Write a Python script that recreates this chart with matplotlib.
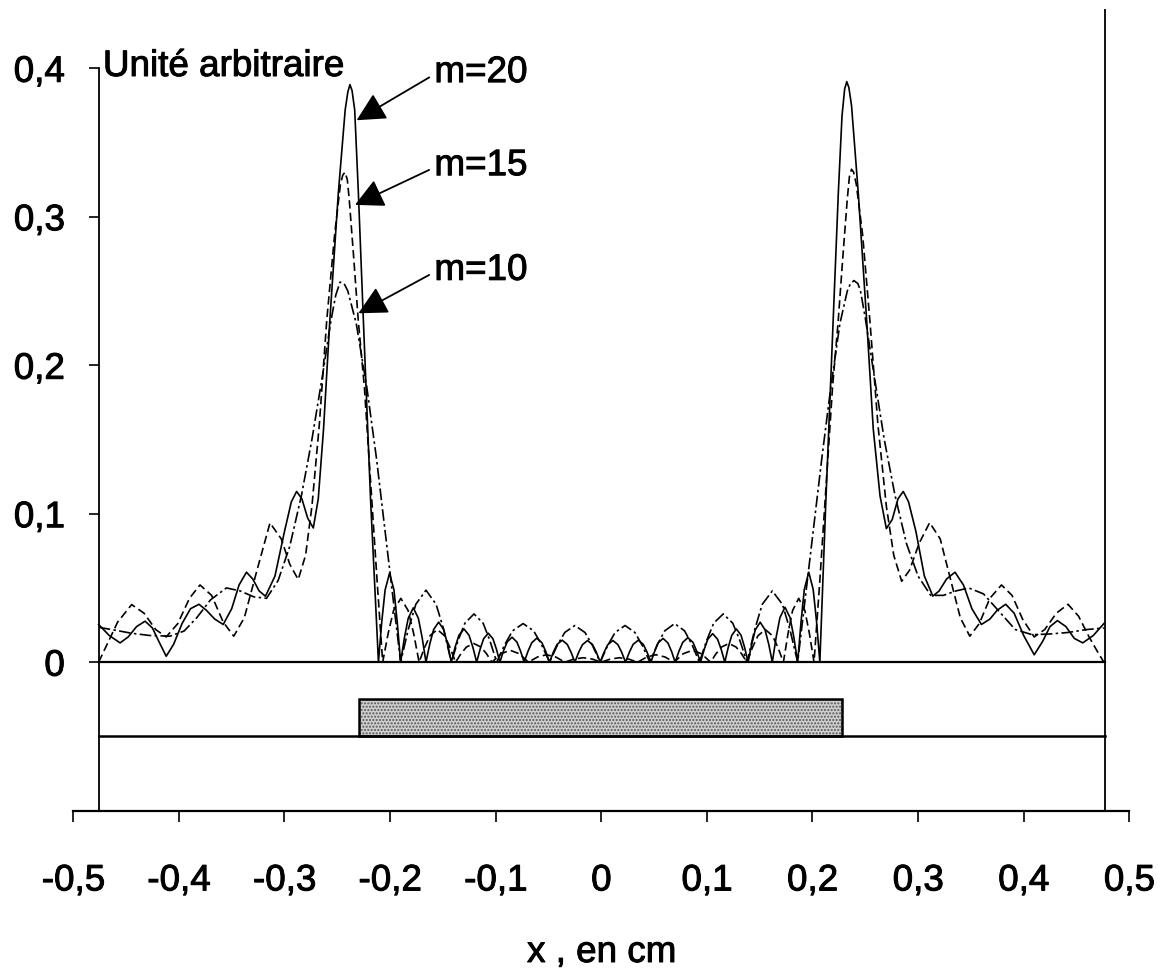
import matplotlib
matplotlib.use("Agg")
import matplotlib.pyplot as plt
import matplotlib.patheffects as pe
from matplotlib.patches import Rectangle

plt.rcParams["font.family"] = ["Liberation Sans", "DejaVu Sans"]
TEXT_SIZE = 26.5
heavy = [pe.withStroke(linewidth=0.7, foreground="black")]

# Axis ticks and their (French decimal) labels
x_ticks = [-0.5, -0.4, -0.3, -0.2, -0.1, 0.0, 0.1, 0.2, 0.3, 0.4, 0.5]
x_tick_labels = ["-0,5", "-0,4", "-0,3", "-0,2", "-0,1", "0", "0,1", "0,2", "0,3", "0,4", "0,5"]
y_ticks = [0.0, 0.1, 0.2, 0.3, 0.4]
y_tick_labels = ["0", "0,1", "0,2", "0,3", "0,4"]

# Profile for m = 10 harmonics
x_m10 = [
    -0.476, -0.460, -0.445, -0.428, -0.4085, -0.395, -0.383, -0.370, -0.355, -0.342,
    -0.329, -0.317, -0.306, -0.295, -0.284, -0.274, -0.264, -0.256, -0.2515, -0.2474,
    -0.2435, -0.240, -0.232, -0.222, -0.213, -0.205, -0.197,
    -0.190, -0.1828, -0.1756, -0.166, -0.1564, -0.1492,
    -0.142, -0.1356, -0.1291, -0.1205, -0.1119, -0.1055,
    -0.099, -0.0915, -0.084, -0.074, -0.064, -0.0565,
    -0.049, -0.0418, -0.0346, -0.025, -0.0154, -0.0082,
    -0.001, 0.006, 0.0131, 0.0225, 0.0319, 0.039,
    0.046, 0.053, 0.0601, 0.0695, 0.0789, 0.086,
    0.093, 0.0998, 0.1065, 0.1155, 0.1245, 0.1313,
    0.138, 0.1452, 0.1524, 0.162, 0.1716, 0.1788,
    0.186, 0.193, 0.201, 0.209, 0.217, 0.226, 0.233, 0.236, 0.2393, 0.243,
    0.2455, 0.250, 0.258, 0.268, 0.278, 0.289, 0.300, 0.312, 0.324, 0.336,
    0.348, 0.362, 0.377, 0.392, 0.408, 0.425, 0.442, 0.460, 0.476,
]
y_m10 = [
    0.0235, 0.0215, 0.0195, 0.018, 0.0175, 0.021, 0.030, 0.042, 0.050, 0.048,
    0.044, 0.043, 0.055, 0.078, 0.112, 0.150, 0.193, 0.230, 0.247, 0.256,
    0.255, 0.250, 0.228, 0.185, 0.138, 0.090, 0.042,
    0.0, 0.022, 0.039, 0.0485, 0.039, 0.022,
    0.0, 0.0146, 0.0263, 0.0325, 0.0263, 0.0146,
    0.0, 0.0117, 0.0211, 0.026, 0.0211, 0.0117,
    0.0, 0.0111, 0.020, 0.0247, 0.020, 0.0111,
    0.0, 0.0111, 0.020, 0.0247, 0.020, 0.0111,
    0.0, 0.0117, 0.0211, 0.026, 0.0211, 0.0117,
    0.0, 0.0146, 0.0263, 0.0325, 0.0263, 0.0146,
    0.0, 0.0216, 0.0389, 0.048, 0.0389, 0.0216,
    0.0, 0.042, 0.090, 0.138, 0.183, 0.228, 0.250, 0.255, 0.257, 0.255,
    0.250, 0.232, 0.195, 0.150, 0.113, 0.080, 0.058, 0.045, 0.045, 0.048,
    0.050, 0.046, 0.034, 0.022, 0.0185, 0.019, 0.020, 0.022, 0.023,
]

# Profile for m = 15 harmonics
x_m15 = [
    -0.476, -0.468, -0.458, -0.4447, -0.433, -0.422, -0.412, -0.401, -0.390, -0.380,
    -0.369, -0.358, -0.348, -0.338, -0.326, -0.3137, -0.303, -0.295, -0.287, -0.280,
    -0.274, -0.267, -0.260, -0.2525, -0.247, -0.2448, -0.2427, -0.2405, -0.2387, -0.2347,
    -0.2301, -0.2243, -0.2183, -0.2123,
    -0.207, -0.2018, -0.1967, -0.1898, -0.1829, -0.1777,
    -0.1725, -0.1673, -0.1622, -0.1553, -0.1484, -0.1432,
    -0.138, -0.1328, -0.1277, -0.1208, -0.1139, -0.1087,
    -0.1035, -0.0949, -0.0863, -0.0776,
    -0.069, -0.0604, -0.0518, -0.0431,
    -0.0345, -0.0259, -0.0173, -0.0086,
    0.0, 0.0086, 0.0173, 0.0259,
    0.0345, 0.0431, 0.0518, 0.0604,
    0.069, 0.0776, 0.0863, 0.0949,
    0.1035, 0.1087, 0.1139, 0.1208, 0.1277, 0.1328,
    0.138, 0.1432, 0.1484, 0.1553, 0.1622, 0.1673,
    0.1725, 0.1769, 0.1812, 0.187, 0.1928, 0.1971,
    0.2015, 0.207, 0.213, 0.219, 0.2244, 0.229, 0.233, 0.235, 0.237, 0.239,
    0.2415, 0.2475, 0.2544, 0.262, 0.270, 0.277, 0.2845, 0.292, 0.301, 0.311,
    0.321, 0.330, 0.340, 0.349, 0.358, 0.368, 0.379, 0.389, 0.399, 0.410,
    0.420, 0.431, 0.442, 0.452, 0.462, 0.470, 0.476,
]
y_m15 = [
    0.0, 0.012, 0.027, 0.0388, 0.033, 0.022, 0.017, 0.026, 0.043, 0.052,
    0.045, 0.027, 0.0175, 0.030, 0.062, 0.0938, 0.083, 0.066, 0.0557, 0.072,
    0.105, 0.160, 0.230, 0.288, 0.322, 0.328, 0.330, 0.325, 0.312, 0.275,
    0.230, 0.185, 0.120, 0.055,
    0.0, 0.0194, 0.0348, 0.043, 0.0348, 0.0194,
    0.0, 0.0099, 0.0178, 0.022, 0.0178, 0.0099,
    0.0, 0.0057, 0.0102, 0.0126, 0.0102, 0.0057,
    0.0, 0.0057, 0.008, 0.0057,
    0.0, 0.0035, 0.005, 0.0035,
    0.0, 0.0021, 0.003, 0.0021,
    0.0, 0.0021, 0.003, 0.0021,
    0.0, 0.0035, 0.005, 0.0035,
    0.0, 0.0057, 0.008, 0.0057,
    0.0, 0.0057, 0.0102, 0.0126, 0.0102, 0.0057,
    0.0, 0.0099, 0.0178, 0.022, 0.0178, 0.0099,
    0.0, 0.0194, 0.0348, 0.043, 0.0348, 0.0194,
    0.0, 0.055, 0.120, 0.185, 0.230, 0.275, 0.312, 0.327, 0.332, 0.330,
    0.322, 0.288, 0.230, 0.160, 0.105, 0.072, 0.0545, 0.062, 0.080, 0.094,
    0.083, 0.058, 0.030, 0.0175, 0.026, 0.043, 0.052, 0.045, 0.029, 0.017,
    0.022, 0.033, 0.039, 0.031, 0.017, 0.007, 0.0,
]

# Profile for m = 20 harmonics
x_m20 = [
    -0.476, -0.466, -0.4557, -0.448, -0.440, -0.432, -0.425, -0.419, -0.412, -0.405,
    -0.397, -0.389, -0.381, -0.374, -0.366, -0.358, -0.350, -0.343, -0.336, -0.330,
    -0.324, -0.318, -0.309, -0.300, -0.2935, -0.2885, -0.2835, -0.278, -0.2727, -0.268,
    -0.263, -0.257, -0.249, -0.2425, -0.240, -0.238, -0.236, -0.2335, -0.230, -0.2253,
    -0.2185,
    -0.211, -0.2079, -0.2047, -0.2005, -0.1963, -0.1932,
    -0.190, -0.1864, -0.1828, -0.178, -0.1732, -0.1696,
    -0.166, -0.1624, -0.1588, -0.154, -0.1492, -0.1456,
    -0.142, -0.1384, -0.1348, -0.130, -0.1252, -0.1216,
    -0.118, -0.1147, -0.1114, -0.107, -0.1026, -0.0993,
    -0.096, -0.0926, -0.0891, -0.0845, -0.0799, -0.0765,
    -0.073, -0.0694, -0.0658, -0.061, -0.0562, -0.0526,
    -0.049, -0.0454, -0.0418, -0.037, -0.0322, -0.0286,
    -0.025, -0.0214, -0.0178, -0.013, -0.0082, -0.0046,
    -0.001, 0.0026, 0.0062, 0.011, 0.0158, 0.0194,
    0.023, 0.0266, 0.0302, 0.035, 0.0398, 0.0434,
    0.047, 0.0505, 0.0539, 0.0585, 0.0631, 0.0666,
    0.070, 0.0736, 0.0772, 0.082, 0.0868, 0.0904,
    0.094, 0.0975, 0.1009, 0.1055, 0.1101, 0.1136,
    0.117, 0.1203, 0.1236, 0.128, 0.1324, 0.1357,
    0.139, 0.1425, 0.1459, 0.1505, 0.1551, 0.1586,
    0.162, 0.1656, 0.1692, 0.174, 0.1788, 0.1824,
    0.186, 0.1892, 0.1923, 0.1965, 0.2007, 0.2039,
    0.207, 0.2125, 0.2197, 0.2245, 0.228, 0.2305, 0.2325, 0.2345, 0.237, 0.2434,
    0.2513, 0.2576, 0.264, 0.270, 0.2755, 0.281, 0.286, 0.291, 0.298, 0.306,
    0.314, 0.320, 0.327, 0.335, 0.343, 0.351, 0.360, 0.368, 0.375, 0.383,
    0.391, 0.400, 0.410, 0.418, 0.425, 0.432, 0.440, 0.448, 0.456, 0.466,
    0.476,
]
y_m20 = [
    0.0254, 0.018, 0.013, 0.017, 0.024, 0.0276, 0.023, 0.014, 0.004, 0.012,
    0.026, 0.036, 0.039, 0.035, 0.029, 0.0254, 0.036, 0.052, 0.0606, 0.056,
    0.048, 0.0444, 0.058, 0.088, 0.108, 0.115, 0.110, 0.097, 0.0904, 0.110,
    0.157, 0.2306, 0.316, 0.372, 0.384, 0.389, 0.385, 0.372, 0.316, 0.2306,
    0.110,
    0.0, 0.027, 0.0486, 0.060, 0.0486, 0.027,
    0.0, 0.0165, 0.0296, 0.0366, 0.0296, 0.0165,
    0.0, 0.0122, 0.0219, 0.027, 0.0219, 0.0122,
    0.0, 0.0101, 0.0181, 0.0224, 0.0181, 0.0101,
    0.0, 0.0088, 0.0158, 0.0195, 0.0158, 0.0088,
    0.0, 0.0076, 0.0136, 0.0168, 0.0136, 0.0076,
    0.0, 0.0073, 0.0131, 0.0162, 0.0131, 0.0073,
    0.0, 0.0067, 0.012, 0.0148, 0.012, 0.0067,
    0.0, 0.0066, 0.0118, 0.0146, 0.0118, 0.0066,
    0.0, 0.0066, 0.0118, 0.0146, 0.0118, 0.0066,
    0.0, 0.0067, 0.012, 0.0148, 0.012, 0.0067,
    0.0, 0.0072, 0.013, 0.016, 0.013, 0.0072,
    0.0, 0.0074, 0.0134, 0.0165, 0.0134, 0.0074,
    0.0, 0.0086, 0.0155, 0.0192, 0.0155, 0.0086,
    0.0, 0.0101, 0.0181, 0.0224, 0.0181, 0.0101,
    0.0, 0.0121, 0.0218, 0.0269, 0.0218, 0.0121,
    0.0, 0.0167, 0.030, 0.037, 0.030, 0.0167,
    0.0, 0.0273, 0.049, 0.0606, 0.049, 0.0273,
    0.0, 0.105, 0.2306, 0.316, 0.368, 0.386, 0.391, 0.387, 0.375, 0.316,
    0.2306, 0.157, 0.112, 0.090, 0.096, 0.110, 0.115, 0.108, 0.088, 0.058,
    0.0445, 0.048, 0.056, 0.0606, 0.052, 0.036, 0.0254, 0.029, 0.035, 0.039,
    0.033, 0.018, 0.005, 0.014, 0.024, 0.028, 0.024, 0.016, 0.013, 0.018,
    0.026,
]

# Curve labels with the point each arrow designates
curve_labels = ["m=20", "m=15", "m=10"]
label_anchor_x = [-0.158, -0.158, -0.158]
label_anchor_y = [0.3907, 0.328, 0.2575]
arrow_tip_x = [-0.2317, -0.2332, -0.2300]
arrow_tip_y = [0.365, 0.308, 0.235]

# Cell geometry drawn under the profiles (cm, arbitrary vertical units)
cell_left, cell_right = -0.476, 0.477
substrate_level = -0.05
strip_left, strip_right = -0.229, 0.228
strip_top = -0.025
frame_top = 0.44

fig = plt.figure(figsize=(11.65, 9.74), dpi=100)
ax = fig.add_axes([0.0629, 0.1677, 0.9064, 0.7622])
ax.set_xlim(-0.5, 0.5)
ax.set_ylim(-0.1, 0.4)

for side in ("top", "right"):
    ax.spines[side].set_visible(False)
ax.spines["left"].set_position(("data", cell_left))
ax.spines["left"].set_bounds(-0.1, 0.4)
ax.spines["left"].set_linewidth(1.3)
ax.spines["bottom"].set_linewidth(1.6)

ax.set_xticks(x_ticks)
ax.set_xticklabels(x_tick_labels)
ax.set_yticks(y_ticks)
ax.set_yticklabels(y_tick_labels)
ax.tick_params(axis="x", direction="out", length=8, width=1.2, pad=30, labelsize=TEXT_SIZE)
ax.tick_params(axis="y", direction="out", length=7.5, width=1.2, pad=17, labelsize=TEXT_SIZE)
for lbl in ax.get_xticklabels() + ax.get_yticklabels():
    lbl.set_path_effects(heavy)

# right border of the cell
ax.plot([cell_right, cell_right], [-0.1, frame_top], color="black", lw=1.3,
        clip_on=False, solid_capstyle="butt")
# reference line at zero and substrate surface
ax.plot([cell_left, cell_right], [0, 0], color="black", lw=1.6)
ax.plot([cell_left, cell_right], [substrate_level, substrate_level], color="black", lw=1.8)

# metallised strip
ax.add_patch(Rectangle((strip_left, substrate_level), strip_right - strip_left,
                       strip_top - substrate_level, facecolor="#cfcfcf",
                       edgecolor="#555555", lw=0, hatch="....."))
ax.add_patch(Rectangle((strip_left, substrate_level), strip_right - strip_left,
                       strip_top - substrate_level, facecolor="none",
                       edgecolor="black", lw=1.8))

# field profiles
ax.plot(x_m10, y_m10, color="black", lw=1.2, linestyle=(0, (7, 2, 1.5, 2)))
ax.plot(x_m15, y_m15, color="black", lw=1.2, linestyle=(0, (5, 2.5)))
ax.plot(x_m20, y_m20, color="black", lw=1.2, linestyle="-")

ax.text(-0.4719, 0.3948, "Unité arbitraire", fontsize=TEXT_SIZE, ha="left",
        va="baseline", path_effects=heavy)

for lab, lx, ly, tx, ty in zip(curve_labels, label_anchor_x, label_anchor_y,
                               arrow_tip_x, arrow_tip_y):
    ax.annotate(lab, xy=(tx, ty), xytext=(lx, ly), fontsize=TEXT_SIZE,
                ha="left", va="baseline", path_effects=heavy,
                arrowprops=dict(arrowstyle="-|>,head_length=0.55,head_width=0.28",
                                mutation_scale=32, color="black", lw=1.3,
                                shrinkA=2, shrinkB=0, relpos=(0.0, 0.45)))

fig.text(601.5 / 1165, 12 / 974, "x , en cm", fontsize=TEXT_SIZE, ha="center",
         va="baseline", path_effects=heavy)

fig.savefig("out.png", dpi=100, facecolor="white")
